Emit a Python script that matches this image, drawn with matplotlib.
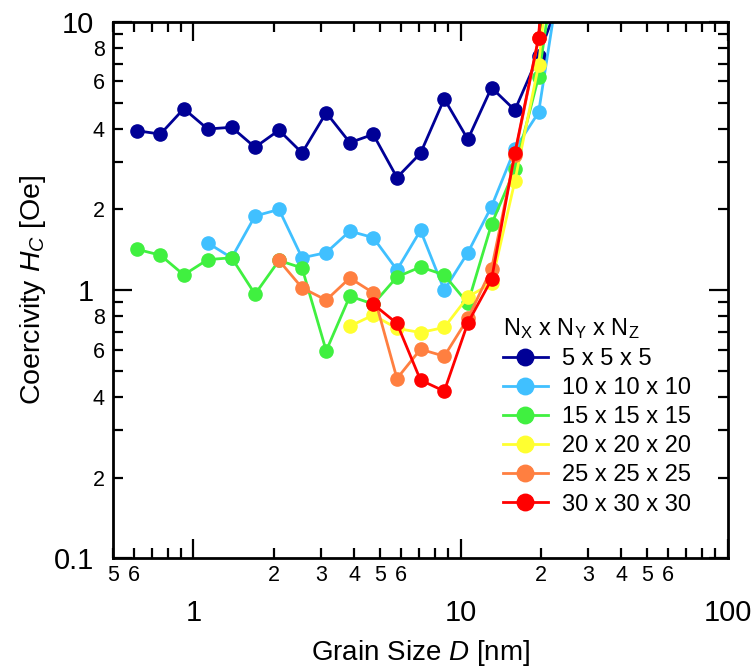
import matplotlib
matplotlib.use("Agg")
import matplotlib.pyplot as plt

plt.rcParams["font.family"] = ["Liberation Sans", "DejaVu Sans"]
plt.rcParams["mathtext.fontset"] = "custom"
plt.rcParams["mathtext.rm"] = "Liberation Sans"
plt.rcParams["mathtext.it"] = "Liberation Sans:italic"

# grain sizes [nm]
D = [0.615, 0.752, 0.92, 1.13, 1.39, 1.70, 2.09, 2.55, 3.14, 3.85,
     4.71, 5.78, 7.08, 8.69, 10.65, 13.06, 15.97, 19.6, 24.0]

# coercivity [Oe] for each mesh size
hc5 = [3.93, 3.82, 4.75, 3.99, 4.05, 3.41, 3.95, 3.25, 4.59, 3.55,
       3.81, 2.63, 3.24, 5.17, 3.65, 5.69, 4.69, 7.5, 12.9]
hc10 = [1.50, 1.32, 1.89, 2.00, 1.32, 1.38, 1.66, 1.57, 1.19, 1.67,
        1.00, 1.38, 2.05, 3.36, 4.60, 16.8]
hc15 = [1.42, 1.35, 1.14, 1.30, 1.32, 0.966, 1.29, 1.21, 0.594, 0.950,
        0.887, 1.12, 1.22, 1.14, 0.892, 1.76, 2.82, 6.25, 24.7]
hc20 = [0.734, 0.807, 0.72, 0.695, 0.726, 0.944, 1.06, 2.55, 6.9, 46.5]
hc25 = [1.29, 1.02, 0.918, 1.11, 0.977, 0.468, 0.602, 0.567, 0.784,
        1.20, 3.19, 8.7, 120.0]
hc30 = [0.887, 0.751, 0.462, 0.42, 0.755, 1.096, 3.24, 8.74, 163.0]

series = [
    ("5 x 5 x 5", D, hc5, "#000096"),
    ("10 x 10 x 10", D[3:], hc10, "#40c0ff"),
    ("15 x 15 x 15", D, hc15, "#40f040"),
    ("20 x 20 x 20", D[9:], hc20, "#ffff30"),
    ("25 x 25 x 25", D[6:], hc25, "#ff7f40"),
    ("30 x 30 x 30", D[10:], hc30, "#ff0000"),
]

fig = plt.figure(figsize=(7.54, 6.67), dpi=100)
ax = fig.add_axes([0.150, 0.163, 0.815, 0.804])

for label, x, y, c in series:
    ax.plot(x, y, "-o", color=c, lw=2.0, ms=9.5, label=label)

ax.set_xscale("log")
ax.set_yscale("log")
ax.set_xlim(0.5, 100)
ax.set_ylim(0.1, 10)

# major ticks
ax.set_xticks([1, 10, 100], labels=["1", "10", "100"])
ax.set_yticks([0.1, 1, 10], labels=["0.1", "1", "10"])

# minor ticks with partial labels
xminor = [0.5, 0.6, 0.7, 0.8, 0.9] + list(range(2, 10)) + list(range(20, 100, 10))
xminor_lab = ["5", "6", "", "", ""] + ["2", "3", "4", "5", "6", "", "", ""] * 2
ax.set_xticks(xminor, labels=xminor_lab, minor=True)
yminor = [0.2, 0.3, 0.4, 0.5, 0.6, 0.7, 0.8, 0.9] + list(range(2, 10))
yminor_lab = ["2", "", "4", "", "6", "", "8", ""] * 2
ax.set_yticks(yminor, labels=yminor_lab, minor=True)

ax.tick_params(which="both", direction="in", top=True, right=True, width=1.6)
ax.tick_params(which="major", length=14, labelsize=21)
ax.tick_params(which="minor", length=7, labelsize=15.5)
ax.tick_params(axis="x", which="major", pad=29)
ax.tick_params(axis="x", which="minor", pad=5)
ax.tick_params(axis="y", which="major", pad=14)
ax.tick_params(axis="y", which="minor", pad=6)
for s in ax.spines.values():
    s.set_linewidth(2)

ax.set_xlabel("Grain Size $D$ [nm]", fontsize=20, labelpad=8)
ax.set_ylabel("Coercivity $H_C$ [Oe]", fontsize=20.5, labelpad=4)

leg = ax.legend(title="N$_\\mathrm{X}$ x N$_\\mathrm{Y}$ x N$_\\mathrm{Z}$",
                loc="lower right", bbox_to_anchor=(0.975, 0.04), frameon=False,
                fontsize=17, title_fontsize=17, markerscale=1.25,
                handlelength=1.9, handletextpad=0.6, labelspacing=0.3,
                alignment="left")

fig.savefig("out.png", dpi=100)
